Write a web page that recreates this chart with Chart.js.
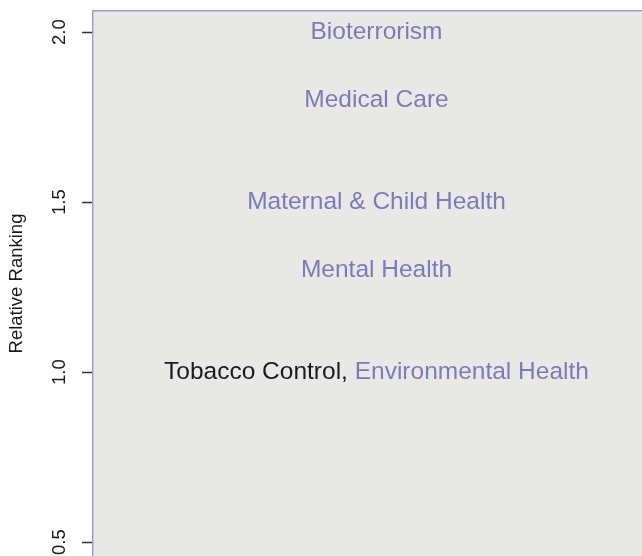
<!DOCTYPE html>
<html>
<head>
<meta charset="utf-8">
<script src="https://cdn.jsdelivr.net/npm/chart.js@4/dist/chart.umd.min.js"></script>
<style>
  html, body { margin: 0; padding: 0; background: #fff; }
  #wrap { width: 642px; height: 556px; overflow: hidden; }
</style>
</head>
<body>
<div id="wrap"><canvas id="myChart" width="660" height="556"></canvas></div>
<script>
var topics = ["Bioterrorism", "Medical Care", "Maternal & Child Health", "Mental Health", "Tobacco Control", "Environmental Health"];
var rankings = [2.0, 1.8, 1.5, 1.3, 1.0, 1.0];
var yTicks = [0.5, 1.0, 1.5, 2.0];
var selectedTopic = "Tobacco Control";

var purple = "#7e7ab5";
var borderPurple = "#9f9cc8";

// panel background
var panelBg = {
  id: "panelBg",
  beforeDraw: function(chart) {
    var a = chart.chartArea, ctx = chart.ctx;
    ctx.save();
    ctx.fillStyle = "#e8e9e7";
    ctx.fillRect(a.left, a.top, a.right - a.left, a.bottom - a.top);
    ctx.restore();
  }
};

// topic names drawn at their points, labels sharing a ranking joined with ", "
var topicLabels = {
  id: "topicLabels",
  afterDatasetsDraw: function(chart) {
    var ctx = chart.ctx;
    var meta = chart.getDatasetMeta(0);
    var rows = {};
    var order = [];
    meta.data.forEach(function(pt, i) {
      var key = Math.round(pt.y);
      if (!rows[key]) { rows[key] = { x: pt.x, y: pt.y, names: [] }; order.push(key); }
      rows[key].names.push(topics[i]);
    });
    ctx.save();
    ctx.font = "24.5px 'Liberation Sans', Arial, sans-serif";
    ctx.textBaseline = "middle";
    ctx.textAlign = "left";
    order.forEach(function(key) {
      var row = rows[key];
      var parts = row.names.map(function(n, j) {
        return { text: n + (j < row.names.length - 1 ? ", " : ""), color: n === selectedTopic ? "#1a1a1a" : purple };
      });
      var total = 0;
      parts.forEach(function(p) { p.w = ctx.measureText(p.text).width; total += p.w; });
      var x = row.x - total / 2;
      parts.forEach(function(p) {
        ctx.fillStyle = p.color;
        ctx.fillText(p.text, x, row.y);
        x += p.w;
      });
    });
    ctx.restore();
  }
};

document.addEventListener("DOMContentLoaded", function() {
  var ctx = document.getElementById("myChart");

  new Chart(ctx, {
    type: "scatter",
    data: {
      datasets: [{
        data: rankings.map(function(r) { return { x: 0.5, y: r }; }),
        pointRadius: 0,
        pointHoverRadius: 0
      }]
    },
    options: {
      responsive: false,
      animation: false,
      layout: { padding: 0 },
      plugins: {
        legend: { display: false },
        tooltip: { enabled: false }
      },
      scales: {
        x: {
          position: "top",
          min: 0,
          max: 1,
          ticks: { display: false },
          grid: { display: false, drawTicks: false },
          border: { display: true, color: borderPurple, width: 1.5 },
          afterFit: function(s) {
            s.height = 11;
            s.paddingLeft = 0; s.paddingRight = 0;
          }
        },
        y: {
          min: 0.459,
          max: 2.062,
          afterBuildTicks: function(s) {
            s.ticks = yTicks.map(function(v) { return { value: v }; });
          },
          ticks: {
            minRotation: 90,
            maxRotation: 90,
            crossAlign: "center",
            padding: 9,
            color: "#1a1a1a",
            font: { family: "'Liberation Sans', Arial, sans-serif", size: 18.5 },
            callback: function(v) { return Number(v).toFixed(1); }
          },
          grid: {
            drawOnChartArea: false,
            drawTicks: true,
            tickLength: 11,
            tickColor: "#333",
            tickWidth: 1.5
          },
          border: { display: true, color: borderPurple, width: 1.5 },
          title: {
            display: true,
            text: "Relative Ranking",
            color: "#1a1a1a",
            padding: { top: 6, bottom: 0 },
            font: { family: "'Liberation Sans', Arial, sans-serif", size: 18.5 }
          },
          afterFit: function(s) {
            s.width = 93;
            s.paddingTop = 0; s.paddingBottom = 0;
          }
        }
      }
    },
    plugins: [panelBg, topicLabels]
  });
});
</script>
</body>
</html>
